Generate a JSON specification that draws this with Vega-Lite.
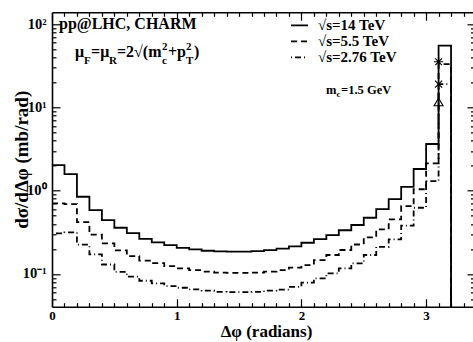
{
  "$schema": "https://vega.github.io/schema/vega-lite/v6.json",
  "width": 421,
  "height": 294.4,
  "autosize": {"type": "none"},
  "padding": {"left": 52, "top": 12.3, "right": 0, "bottom": 35.3},
  "background": "white",
  "config": {
    "view": {"stroke": null},
    "axis": {
      "grid": false,
      "domainColor": "black",
      "domainWidth": 1.6,
      "tickColor": "black",
      "tickWidth": 1.2,
      "labelFont": "Liberation Serif",
      "labelFontWeight": "bold",
      "labelFontSize": 13,
      "labelColor": "black",
      "labelOverlap": false,
      "labelFlush": false,
      "titleFont": "Liberation Serif",
      "titleFontWeight": "bold",
      "titleColor": "black"
    }
  },
  "datasets": {
    "hist": [
      {"s": "√s=14 TeV", "phi": 0.0, "v": 2.03},
      {"s": "√s=14 TeV", "phi": 0.1, "v": 1.58},
      {"s": "√s=14 TeV", "phi": 0.2, "v": 0.845},
      {"s": "√s=14 TeV", "phi": 0.3, "v": 0.585},
      {"s": "√s=14 TeV", "phi": 0.4, "v": 0.443},
      {"s": "√s=14 TeV", "phi": 0.5, "v": 0.359},
      {"s": "√s=14 TeV", "phi": 0.6, "v": 0.31},
      {"s": "√s=14 TeV", "phi": 0.7, "v": 0.264},
      {"s": "√s=14 TeV", "phi": 0.8, "v": 0.239},
      {"s": "√s=14 TeV", "phi": 0.9, "v": 0.222},
      {"s": "√s=14 TeV", "phi": 1.0, "v": 0.206},
      {"s": "√s=14 TeV", "phi": 1.1, "v": 0.197},
      {"s": "√s=14 TeV", "phi": 1.2, "v": 0.19},
      {"s": "√s=14 TeV", "phi": 1.3, "v": 0.187},
      {"s": "√s=14 TeV", "phi": 1.4, "v": 0.186},
      {"s": "√s=14 TeV", "phi": 1.5, "v": 0.186},
      {"s": "√s=14 TeV", "phi": 1.6, "v": 0.188},
      {"s": "√s=14 TeV", "phi": 1.7, "v": 0.193},
      {"s": "√s=14 TeV", "phi": 1.8, "v": 0.202},
      {"s": "√s=14 TeV", "phi": 1.9, "v": 0.215},
      {"s": "√s=14 TeV", "phi": 2.0, "v": 0.237},
      {"s": "√s=14 TeV", "phi": 2.1, "v": 0.262},
      {"s": "√s=14 TeV", "phi": 2.2, "v": 0.292},
      {"s": "√s=14 TeV", "phi": 2.3, "v": 0.335},
      {"s": "√s=14 TeV", "phi": 2.4, "v": 0.387},
      {"s": "√s=14 TeV", "phi": 2.5, "v": 0.473},
      {"s": "√s=14 TeV", "phi": 2.6, "v": 0.601},
      {"s": "√s=14 TeV", "phi": 2.7, "v": 0.793},
      {"s": "√s=14 TeV", "phi": 2.8, "v": 1.11},
      {"s": "√s=14 TeV", "phi": 2.9, "v": 1.82},
      {"s": "√s=14 TeV", "phi": 3.0, "v": 3.63},
      {"s": "√s=14 TeV", "phi": 3.1, "v": 55},
      {"s": "√s=14 TeV", "phi": 3.2, "v": 55},
      {"s": "√s=14 TeV", "phi": 3.2, "v": 0.0405},
      {"s": "√s=5.5 TeV", "phi": 0.0, "v": 0.705},
      {"s": "√s=5.5 TeV", "phi": 0.1, "v": 0.69},
      {"s": "√s=5.5 TeV", "phi": 0.2, "v": 0.42},
      {"s": "√s=5.5 TeV", "phi": 0.3, "v": 0.297},
      {"s": "√s=5.5 TeV", "phi": 0.4, "v": 0.233},
      {"s": "√s=5.5 TeV", "phi": 0.5, "v": 0.192},
      {"s": "√s=5.5 TeV", "phi": 0.6, "v": 0.164},
      {"s": "√s=5.5 TeV", "phi": 0.7, "v": 0.145},
      {"s": "√s=5.5 TeV", "phi": 0.8, "v": 0.135},
      {"s": "√s=5.5 TeV", "phi": 0.9, "v": 0.124},
      {"s": "√s=5.5 TeV", "phi": 1.0, "v": 0.117},
      {"s": "√s=5.5 TeV", "phi": 1.1, "v": 0.111},
      {"s": "√s=5.5 TeV", "phi": 1.2, "v": 0.107},
      {"s": "√s=5.5 TeV", "phi": 1.3, "v": 0.104},
      {"s": "√s=5.5 TeV", "phi": 1.4, "v": 0.103},
      {"s": "√s=5.5 TeV", "phi": 1.5, "v": 0.103},
      {"s": "√s=5.5 TeV", "phi": 1.6, "v": 0.104},
      {"s": "√s=5.5 TeV", "phi": 1.7, "v": 0.107},
      {"s": "√s=5.5 TeV", "phi": 1.8, "v": 0.111},
      {"s": "√s=5.5 TeV", "phi": 1.9, "v": 0.119},
      {"s": "√s=5.5 TeV", "phi": 2.0, "v": 0.128},
      {"s": "√s=5.5 TeV", "phi": 2.1, "v": 0.147},
      {"s": "√s=5.5 TeV", "phi": 2.2, "v": 0.169},
      {"s": "√s=5.5 TeV", "phi": 2.3, "v": 0.194},
      {"s": "√s=5.5 TeV", "phi": 2.4, "v": 0.226},
      {"s": "√s=5.5 TeV", "phi": 2.5, "v": 0.275},
      {"s": "√s=5.5 TeV", "phi": 2.6, "v": 0.343},
      {"s": "√s=5.5 TeV", "phi": 2.7, "v": 0.452},
      {"s": "√s=5.5 TeV", "phi": 2.8, "v": 0.653},
      {"s": "√s=5.5 TeV", "phi": 2.9, "v": 1.04},
      {"s": "√s=5.5 TeV", "phi": 3.0, "v": 2.13},
      {"s": "√s=5.5 TeV", "phi": 3.1, "v": 33},
      {"s": "√s=5.5 TeV", "phi": 3.2, "v": 33},
      {"s": "√s=5.5 TeV", "phi": 3.2, "v": 0.0405},
      {"s": "√s=2.76 TeV", "phi": 0.0, "v": 0.307},
      {"s": "√s=2.76 TeV", "phi": 0.1, "v": 0.315},
      {"s": "√s=2.76 TeV", "phi": 0.2, "v": 0.225},
      {"s": "√s=2.76 TeV", "phi": 0.3, "v": 0.172},
      {"s": "√s=2.76 TeV", "phi": 0.4, "v": 0.13},
      {"s": "√s=2.76 TeV", "phi": 0.5, "v": 0.106},
      {"s": "√s=2.76 TeV", "phi": 0.6, "v": 0.093},
      {"s": "√s=2.76 TeV", "phi": 0.7, "v": 0.083},
      {"s": "√s=2.76 TeV", "phi": 0.8, "v": 0.077},
      {"s": "√s=2.76 TeV", "phi": 0.9, "v": 0.0717},
      {"s": "√s=2.76 TeV", "phi": 1.0, "v": 0.0684},
      {"s": "√s=2.76 TeV", "phi": 1.1, "v": 0.0654},
      {"s": "√s=2.76 TeV", "phi": 1.2, "v": 0.063},
      {"s": "√s=2.76 TeV", "phi": 1.3, "v": 0.061},
      {"s": "√s=2.76 TeV", "phi": 1.4, "v": 0.0605},
      {"s": "√s=2.76 TeV", "phi": 1.5, "v": 0.0605},
      {"s": "√s=2.76 TeV", "phi": 1.6, "v": 0.061},
      {"s": "√s=2.76 TeV", "phi": 1.7, "v": 0.063},
      {"s": "√s=2.76 TeV", "phi": 1.8, "v": 0.065},
      {"s": "√s=2.76 TeV", "phi": 1.9, "v": 0.07},
      {"s": "√s=2.76 TeV", "phi": 2.0, "v": 0.0786},
      {"s": "√s=2.76 TeV", "phi": 2.1, "v": 0.0885},
      {"s": "√s=2.76 TeV", "phi": 2.2, "v": 0.1016},
      {"s": "√s=2.76 TeV", "phi": 2.3, "v": 0.117},
      {"s": "√s=2.76 TeV", "phi": 2.4, "v": 0.134},
      {"s": "√s=2.76 TeV", "phi": 2.5, "v": 0.169},
      {"s": "√s=2.76 TeV", "phi": 2.6, "v": 0.212},
      {"s": "√s=2.76 TeV", "phi": 2.7, "v": 0.26},
      {"s": "√s=2.76 TeV", "phi": 2.8, "v": 0.38},
      {"s": "√s=2.76 TeV", "phi": 2.9, "v": 0.624},
      {"s": "√s=2.76 TeV", "phi": 3.0, "v": 1.3},
      {"s": "√s=2.76 TeV", "phi": 3.1, "v": 19},
      {"s": "√s=2.76 TeV", "phi": 3.2, "v": 19},
      {"s": "√s=2.76 TeV", "phi": 3.2, "v": 0.0405}
    ],
    "markers": [
      {"phi": 3.1, "v": 35.2, "m": "star"},
      {"phi": 3.1, "v": 19.0, "m": "cross"},
      {"phi": 3.1, "v": 11.6, "m": "triangle"}
    ],
    "bigText": [
      {"phi": 0.056, "v": 88.3, "t": "pp@LHC, CHARM"},
      {"phi": 0.184, "v": 40.2, "t": "μ"},
      {"phi": 0.313, "v": 40.2, "t": "=μ"},
      {"phi": 0.521, "v": 40.2, "t": "=2√(m"},
      {"phi": 0.93, "v": 40.2, "t": "+p"},
      {"phi": 1.139, "v": 40.2, "t": ")"}
    ],
    "smallText": [
      {"phi": 0.257, "v": 33.1, "t": "F"},
      {"phi": 0.457, "v": 33.1, "t": "R"},
      {"phi": 0.882, "v": 33.1, "t": "c"},
      {"phi": 0.882, "v": 48.7, "t": "2"},
      {"phi": 1.075, "v": 33.1, "t": "T"},
      {"phi": 1.075, "v": 48.7, "t": "2"}
    ],
    "mText": [
      {"phi": 2.197, "v": 14.45, "t": "m"},
      {"phi": 2.318, "v": 14.45, "t": "=1.5 GeV"}
    ],
    "mSub": [
      {"phi": 2.281, "v": 13.3, "t": "c"}
    ]
  },
  "layer": [
    {
      "data": {"name": "hist"},
      "mark": {"type": "line", "interpolate": "step-after", "color": "black", "strokeWidth": 1.8},
      "encoding": {
        "x": {
          "field": "phi", "type": "quantitative",
          "scale": {"domain": [0, 3.376], "nice": false, "zero": false},
          "axis": {
            "orient": "bottom",
            "values": [0,0.1,0.2,0.3,0.4,0.5,0.6,0.7,0.8,0.9,1,1.1,1.2,1.3,1.4,1.5,1.6,1.7,1.8,1.9,2,2.1,2.2,2.3,2.4,2.5,2.6,2.7,2.8,2.9,3,3.1,3.2,3.3],
            "labelExpr": "abs(datum.value - round(datum.value)) < 0.001 ? format(datum.value, 'd') : ''",
            "tickSize": {"condition": {"test": "abs(datum.value - round(datum.value)) < 0.001", "value": -8}, "value": -4},
            "labelPadding": 11,
            "title": "Δφ (radians)",
            "titleFontSize": 17,
            "titleX": 214,
            "titleY": 30,
            "titleBaseline": "alphabetic",
            "titleAlign": "center"
          }
        },
        "y": {
          "field": "v", "type": "quantitative",
          "scale": {"type": "log", "domain": [0.0405, 138.2], "nice": false},
          "axis": {
            "orient": "left",
            "values": [0.05,0.06,0.07,0.08,0.09,0.1,0.2,0.3,0.4,0.5,0.6,0.7,0.8,0.9,1,2,3,4,5,6,7,8,9,10,20,30,40,50,60,70,80,90,100],
            "labelExpr": "datum.value == 100 ? '10²' : datum.value == 10 ? '10¹' : datum.value == 1 ? '10⁰' : datum.value == 0.1 ? '10⁻¹' : ''",
            "tickSize": {"condition": {"test": "datum.value == 100 || datum.value == 10 || datum.value == 1 || datum.value == 0.1", "value": -8}, "value": -4},
            "labelPadding": 14,
            "labelFontSize": 14.5,
            "title": "dσ/dΔφ (mb/rad)",
            "titleFontSize": 19,
            "titleX": -31,
            "titleY": 147,
            "titleBaseline": "middle",
            "titleAlign": "center",
            "titleAngle": 270
          }
        },
        "strokeDash": {
          "field": "s", "type": "nominal",
          "scale": {"domain": ["√s=14 TeV", "√s=5.5 TeV", "√s=2.76 TeV"], "range": [[1, 0], [6, 4], [1, 3, 6, 3]]},
          "legend": {
            "orient": "none",
            "legendX": 238,
            "legendY": 6.75,
            "title": null,
            "padding": 0,
            "symbolType": "stroke",
            "symbolSize": 289,
            "symbolStrokeWidth": 1.8,
            "symbolStrokeColor": "black",
            "labelFont": "Liberation Serif",
            "labelFontWeight": "bold",
            "labelFontSize": 15,
            "labelColor": "black",
            "labelOffset": 9,
            "clipHeight": 12.5,
            "rowPadding": 0
          }
        }
      }
    },
    {
      "data": {"name": "markers"},
      "mark": {"type": "point", "filled": false, "stroke": "black", "strokeWidth": 1.1, "size": 90, "opacity": 1},
      "encoding": {
        "x": {
          "field": "phi", "type": "quantitative",
          "scale": {"domain": [0, 3.376], "nice": false, "zero": false},
          "axis": {
            "orient": "top",
            "values": [0,0.1,0.2,0.3,0.4,0.5,0.6,0.7,0.8,0.9,1,1.1,1.2,1.3,1.4,1.5,1.6,1.7,1.8,1.9,2,2.1,2.2,2.3,2.4,2.5,2.6,2.7,2.8,2.9,3,3.1,3.2,3.3],
            "labels": false,
            "tickSize": {"condition": {"test": "abs(datum.value - round(datum.value)) < 0.001", "value": -8}, "value": -4},
            "title": null
          }
        },
        "y": {
          "field": "v", "type": "quantitative",
          "scale": {"type": "log", "domain": [0.0405, 138.2], "nice": false},
          "axis": {
            "orient": "right",
            "values": [0.05,0.06,0.07,0.08,0.09,0.1,0.2,0.3,0.4,0.5,0.6,0.7,0.8,0.9,1,2,3,4,5,6,7,8,9,10,20,30,40,50,60,70,80,90,100],
            "labels": false,
            "domain": false,
            "tickSize": {"condition": {"test": "datum.value == 100 || datum.value == 10 || datum.value == 1 || datum.value == 0.1", "value": -6}, "value": -2.5},
            "title": null
          }
        },
        "shape": {
          "field": "m", "type": "nominal",
          "scale": {
            "domain": ["star", "cross", "triangle"],
            "range": ["M-1,0L1,0M0,-1L0,1M-0.7,-0.7L0.7,0.7M-0.7,0.7L0.7,-0.7", "M-0.75,-0.75L0.75,0.75M-0.75,0.75L0.75,-0.75", "M0,-0.8L0.95,0.8L-0.95,0.8Z"]
          },
          "legend": null
        }
      }
    },
    {
      "data": {"name": "bigText"},
      "mark": {"type": "text", "font": "Liberation Serif", "fontWeight": "bold", "fontSize": 16, "align": "left", "baseline": "alphabetic", "color": "black"},
      "encoding": {
        "x": {"field": "phi", "type": "quantitative", "axis": null},
        "y": {"field": "v", "type": "quantitative", "axis": null},
        "text": {"field": "t"}
      }
    },
    {
      "data": {"name": "smallText"},
      "mark": {"type": "text", "font": "Liberation Serif", "fontWeight": "bold", "fontSize": 11, "align": "left", "baseline": "alphabetic", "color": "black"},
      "encoding": {
        "x": {"field": "phi", "type": "quantitative", "axis": null},
        "y": {"field": "v", "type": "quantitative", "axis": null},
        "text": {"field": "t"}
      }
    },
    {
      "data": {"name": "mText"},
      "mark": {"type": "text", "font": "Liberation Serif", "fontWeight": "bold", "fontSize": 12.5, "align": "left", "baseline": "alphabetic", "color": "black"},
      "encoding": {
        "x": {"field": "phi", "type": "quantitative", "axis": null},
        "y": {"field": "v", "type": "quantitative", "axis": null},
        "text": {"field": "t"}
      }
    },
    {
      "data": {"name": "mSub"},
      "mark": {"type": "text", "font": "Liberation Serif", "fontWeight": "bold", "fontSize": 9, "align": "left", "baseline": "alphabetic", "color": "black"},
      "encoding": {
        "x": {"field": "phi", "type": "quantitative", "axis": null},
        "y": {"field": "v", "type": "quantitative", "axis": null},
        "text": {"field": "t"}
      }
    }
  ],
  "resolve": {"axis": {"x": "independent", "y": "independent"}}
}
